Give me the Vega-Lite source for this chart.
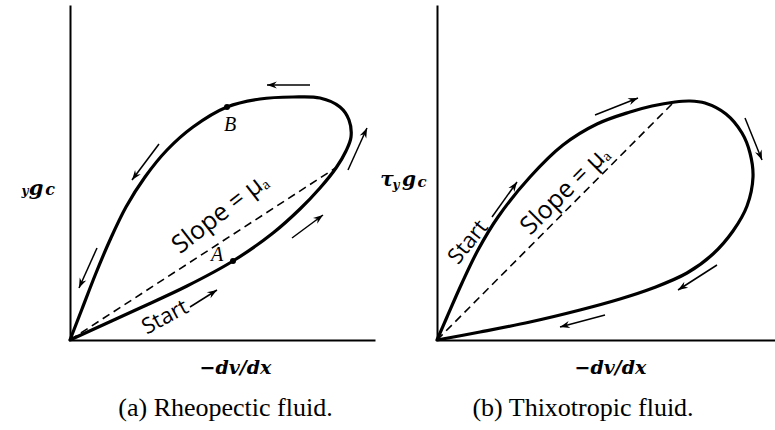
{
  "$schema": "https://vega.github.io/schema/vega-lite/v6.json",
  "background": "white",
  "padding": {"left": 21, "top": 5, "right": 0, "bottom": 5},
  "spacing": 62,
  "bounds": "flush",
  "config": {
    "view": {"stroke": null},
    "axis": {"domainColor": "black", "domainWidth": 2, "ticks": false, "labels": false, "grid": false},
    "title": {"font": "Liberation Serif", "fontSize": 26, "fontWeight": "normal", "color": "black", "orient": "bottom", "anchor": "middle"}
  },
  "datasets": {
    "loopA": [
      {"i": 0, "x": 0, "y": 0}, {"i": 1, "x": 35, "y": 16}, {"i": 2, "x": 70, "y": 32},
      {"i": 3, "x": 117, "y": 54}, {"i": 4, "x": 163, "y": 79}, {"i": 5, "x": 203, "y": 107},
      {"i": 6, "x": 230, "y": 131}, {"i": 7, "x": 250, "y": 152}, {"i": 8, "x": 266, "y": 172},
      {"i": 9, "x": 276, "y": 189}, {"i": 10, "x": 281, "y": 203}, {"i": 11, "x": 279, "y": 220},
      {"i": 12, "x": 270, "y": 233}, {"i": 13, "x": 250, "y": 242}, {"i": 14, "x": 223, "y": 243},
      {"i": 15, "x": 190, "y": 241}, {"i": 16, "x": 157, "y": 233}, {"i": 17, "x": 123, "y": 213},
      {"i": 18, "x": 97, "y": 190}, {"i": 19, "x": 75, "y": 163}, {"i": 20, "x": 56, "y": 133},
      {"i": 21, "x": 40, "y": 100}, {"i": 22, "x": 26, "y": 67}, {"i": 23, "x": 12, "y": 31},
      {"i": 24, "x": 0, "y": 0}
    ],
    "slopeA": [{"i": 0, "x": 0, "y": 0}, {"i": 1, "x": 267, "y": 173}],
    "pointsA": [{"name": "A", "x": 163, "y": 79}, {"name": "B", "x": 157, "y": 233}],
    "arrowsA": [
      {"arrow": 1, "end": "tail", "x": 240, "y": 255, "heading": 270}, {"arrow": 1, "end": "head", "x": 197, "y": 255, "heading": 270},
      {"arrow": 2, "end": "tail", "x": 278, "y": 170, "heading": 24}, {"arrow": 2, "end": "head", "x": 297, "y": 212, "heading": 24},
      {"arrow": 3, "end": "tail", "x": 222, "y": 102, "heading": 53}, {"arrow": 3, "end": "head", "x": 253, "y": 125, "heading": 53},
      {"arrow": 4, "end": "tail", "x": 120, "y": 33, "heading": 58}, {"arrow": 4, "end": "head", "x": 147, "y": 50, "heading": 58},
      {"arrow": 5, "end": "tail", "x": 89, "y": 196, "heading": 217}, {"arrow": 5, "end": "head", "x": 62, "y": 160, "heading": 217},
      {"arrow": 6, "end": "tail", "x": 27, "y": 92, "heading": 204}, {"arrow": 6, "end": "head", "x": 9, "y": 52, "heading": 204}
    ],
    "loopB": [
      {"i": 0, "x": 0, "y": 0}, {"i": 1, "x": 10, "y": 23}, {"i": 2, "x": 25, "y": 57},
      {"i": 3, "x": 41, "y": 90}, {"i": 4, "x": 61, "y": 123}, {"i": 5, "x": 93, "y": 163},
      {"i": 6, "x": 126, "y": 195}, {"i": 7, "x": 160, "y": 216}, {"i": 8, "x": 193, "y": 228},
      {"i": 9, "x": 215, "y": 234}, {"i": 10, "x": 238, "y": 238}, {"i": 11, "x": 253, "y": 239},
      {"i": 12, "x": 268, "y": 237}, {"i": 13, "x": 289, "y": 226}, {"i": 14, "x": 305, "y": 207},
      {"i": 15, "x": 313, "y": 187}, {"i": 16, "x": 316, "y": 163}, {"i": 17, "x": 310, "y": 134},
      {"i": 18, "x": 296, "y": 109}, {"i": 19, "x": 276, "y": 86}, {"i": 20, "x": 250, "y": 67},
      {"i": 21, "x": 216, "y": 52}, {"i": 22, "x": 183, "y": 41}, {"i": 23, "x": 143, "y": 30},
      {"i": 24, "x": 93, "y": 18}, {"i": 25, "x": 43, "y": 8}, {"i": 26, "x": 0, "y": 0}
    ],
    "slopeB": [{"i": 0, "x": 0, "y": 0}, {"i": 1, "x": 236, "y": 237}],
    "arrowsB": [
      {"arrow": 1, "end": "tail", "x": 158, "y": 225, "heading": 68}, {"arrow": 1, "end": "head", "x": 201, "y": 242, "heading": 68},
      {"arrow": 2, "end": "tail", "x": 308, "y": 222, "heading": 158}, {"arrow": 2, "end": "head", "x": 325, "y": 180, "heading": 158},
      {"arrow": 3, "end": "tail", "x": 280, "y": 75, "heading": 237}, {"arrow": 3, "end": "head", "x": 241, "y": 50, "heading": 237},
      {"arrow": 4, "end": "tail", "x": 168, "y": 25, "heading": 255}, {"arrow": 4, "end": "head", "x": 123, "y": 13, "heading": 255},
      {"arrow": 5, "end": "tail", "x": 55, "y": 123, "heading": 35}, {"arrow": 5, "end": "head", "x": 80, "y": 158, "heading": 35}
    ]
  },
  "hconcat": [
    {
      "width": 305,
      "height": 335,
      "title": {"text": "(a) Rheopectic fluid.", "dx": 3, "offset": 18},
      "encoding": {
        "x": {"field": "x", "type": "quantitative", "scale": {"domain": [0, 305], "nice": false, "zero": false},
              "axis": {"title": "−dv/dx", "titleFont": "DejaVu Serif", "titleFontStyle": "italic", "titleFontWeight": "bold", "titleFontSize": 19, "titleColor": "black", "titleX": 165, "titleY": 27, "titleBaseline": "middle"}},
        "y": {"field": "y", "type": "quantitative", "scale": {"domain": [0, 335], "nice": false, "zero": false},
              "axis": {"title": null}}
      },
      "layer": [
        {"data": {"name": "loopA"}, "mark": {"type": "line", "interpolate": "catmull-rom", "color": "black", "strokeWidth": 3.2, "strokeCap": "round"},
         "encoding": {"order": {"field": "i", "type": "quantitative"}}},
        {"data": {"name": "slopeA"}, "mark": {"type": "line", "color": "black", "strokeWidth": 1.6, "strokeDash": [8, 5]},
         "encoding": {"order": {"field": "i", "type": "quantitative"}}},
        {"data": {"name": "arrowsA"}, "mark": {"type": "line", "color": "black", "strokeWidth": 1.5},
         "encoding": {"detail": {"field": "arrow", "type": "nominal"}}},
        {"data": {"name": "arrowsA"}, "transform": [{"filter": {"field": "end", "equal": "head"}}],
         "mark": {"type": "point", "filled": true, "color": "black", "opacity": 1, "strokeWidth": 0},
         "encoding": {
           "shape": {"value": "M0,0L0.8,2.2L0,1.5L-0.8,2.2Z"},
           "size": {"value": 80},
           "angle": {"field": "heading", "type": "quantitative", "scale": null}}},
        {"data": {"name": "pointsA"}, "mark": {"type": "circle", "color": "black", "opacity": 1, "size": 36}, "encoding": {}},
        {"data": {"values": [{"t": "A", "x": 147, "y": 85}, {"t": "B", "x": 160, "y": 215}]},
         "mark": {"type": "text", "font": "Liberation Serif", "fontStyle": "italic", "fontSize": 20, "color": "black"},
         "encoding": {"text": {"field": "t"}}},
        {"data": {"values": [{"t": "Slope = μₐ", "x": 150, "y": 127}]},
         "mark": {"type": "text", "font": "Open Sans", "fontSize": 25, "angle": -38, "color": "black"},
         "encoding": {"text": {"field": "t"}}},
        {"data": {"values": [{"t": "Start", "x": 95, "y": 23}]},
         "mark": {"type": "text", "font": "Open Sans", "fontSize": 22, "angle": -28, "color": "black"},
         "encoding": {"text": {"field": "t"}}},
        {"data": {"values": [{"t": "g", "x": -34, "y": 145}]},
         "mark": {"type": "text", "font": "DejaVu Serif", "fontStyle": "italic", "fontWeight": "bold", "fontSize": 21, "baseline": "alphabetic", "color": "black"},
         "encoding": {"text": {"field": "t"}}},
        {"data": {"values": [{"t": "y", "x": -45, "y": 145}]},
         "mark": {"type": "text", "font": "DejaVu Serif", "fontStyle": "italic", "fontWeight": "bold", "fontSize": 12, "baseline": "alphabetic", "color": "black"},
         "encoding": {"text": {"field": "t"}}},
        {"data": {"values": [{"t": "c", "x": -20, "y": 145}]},
         "mark": {"type": "text", "font": "DejaVu Serif", "fontStyle": "italic", "fontWeight": "bold", "fontSize": 16, "baseline": "alphabetic", "color": "black"},
         "encoding": {"text": {"field": "t"}}}
      ]
    },
    {
      "width": 338,
      "height": 335,
      "title": {"text": "(b) Thixotropic fluid.", "dx": -23, "offset": 18},
      "encoding": {
        "x": {"field": "x", "type": "quantitative", "scale": {"domain": [0, 338], "nice": false, "zero": false},
              "axis": {"title": "−dv/dx", "titleFont": "DejaVu Serif", "titleFontStyle": "italic", "titleFontWeight": "bold", "titleFontSize": 19, "titleColor": "black", "titleX": 173, "titleY": 27, "titleBaseline": "middle"}},
        "y": {"field": "y", "type": "quantitative", "scale": {"domain": [0, 335], "nice": false, "zero": false},
              "axis": {"title": null}}
      },
      "layer": [
        {"data": {"name": "loopB"}, "mark": {"type": "line", "interpolate": "catmull-rom", "color": "black", "strokeWidth": 3.2, "strokeCap": "round"},
         "encoding": {"order": {"field": "i", "type": "quantitative"}}},
        {"data": {"name": "slopeB"}, "mark": {"type": "line", "color": "black", "strokeWidth": 1.6, "strokeDash": [8, 5]},
         "encoding": {"order": {"field": "i", "type": "quantitative"}}},
        {"data": {"name": "arrowsB"}, "mark": {"type": "line", "color": "black", "strokeWidth": 1.5},
         "encoding": {"detail": {"field": "arrow", "type": "nominal"}}},
        {"data": {"name": "arrowsB"}, "transform": [{"filter": {"field": "end", "equal": "head"}}],
         "mark": {"type": "point", "filled": true, "color": "black", "opacity": 1, "strokeWidth": 0},
         "encoding": {
           "shape": {"value": "M0,0L0.8,2.2L0,1.5L-0.8,2.2Z"},
           "size": {"value": 80},
           "angle": {"field": "heading", "type": "quantitative", "scale": null}}},
        {"data": {"values": [{"t": "Slope = μₐ", "x": 128, "y": 150}]},
         "mark": {"type": "text", "font": "Open Sans", "fontSize": 25, "angle": -45, "color": "black"},
         "encoding": {"text": {"field": "t"}}},
        {"data": {"values": [{"t": "Start", "x": 31, "y": 98}]},
         "mark": {"type": "text", "font": "Open Sans", "fontSize": 22, "angle": -51, "color": "black"},
         "encoding": {"text": {"field": "t"}}},
        {"data": {"values": [{"t": "τ", "x": -50, "y": 154}, {"t": "g", "x": -28, "y": 154}]},
         "mark": {"type": "text", "font": "DejaVu Serif", "fontStyle": "italic", "fontWeight": "bold", "fontSize": 20, "baseline": "alphabetic", "color": "black"},
         "encoding": {"text": {"field": "t"}}},
        {"data": {"values": [{"t": "y", "x": -41, "y": 151}]},
         "mark": {"type": "text", "font": "DejaVu Serif", "fontStyle": "italic", "fontWeight": "bold", "fontSize": 12, "baseline": "alphabetic", "color": "black"},
         "encoding": {"text": {"field": "t"}}},
        {"data": {"values": [{"t": "c", "x": -15, "y": 153}]},
         "mark": {"type": "text", "font": "DejaVu Serif", "fontStyle": "italic", "fontWeight": "bold", "fontSize": 15, "baseline": "alphabetic", "color": "black"},
         "encoding": {"text": {"field": "t"}}}
      ]
    }
  ]
}
